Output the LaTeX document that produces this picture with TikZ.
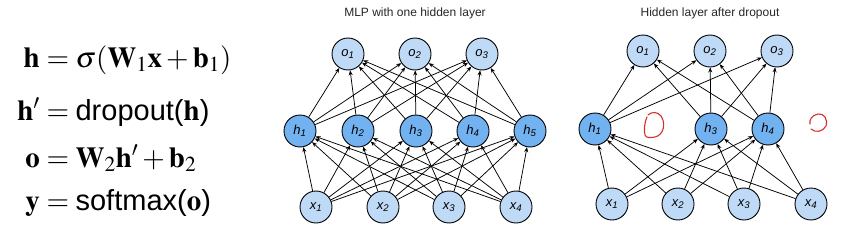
\documentclass[tikz,border=0pt]{standalone}
\usepackage{mathptmx}
\usepackage[no-math]{fontspec}
\newfontfamily\ars{Liberation Sans}
\usetikzlibrary{arrows.meta}
\definecolor{lightnode}{HTML}{BFDAF7}
\definecolor{hidnode}{HTML}{72B2F0}
\definecolor{redink}{HTML}{D32F2F}
\newcommand{\lbl}[2]{{\ars\itshape #1\textsubscript{#2}}}
\tikzset{
  neuron/.style={circle,draw=black,line width=0.9pt,minimum size=32pt,inner sep=0pt,font=\ars\fontsize{13}{14}\selectfont},
  onode/.style={neuron,fill=lightnode},
  xnode/.style={neuron,fill=lightnode},
  hnode/.style={neuron,fill=hidnode},
  conn/.style={-{Stealth[length=5pt,width=4pt]},line width=0.75pt,black},
  title/.style={font=\ars\fontsize{12}{14}\selectfont,text=black!85},
  eqL/.style={anchor=base east,inner sep=0pt,font=\fontsize{29}{32}\selectfont},
  eqR/.style={anchor=base west,inner sep=0pt,font=\fontsize{29}{32}\selectfont},
  redloop/.style={draw=redink,line width=1.1pt,line cap=round,line join=round}
}
\begin{document}
\begin{tikzpicture}[x=1pt,y=-1pt]
\useasboundingbox (0,0) rectangle (852,241);
% equations
\node[eqL] (l1) at (40,67) {$\mathbf{h}$};
\node[eqR] (r1) at (40,67) {${}=\sigma(\mathbf{W}_1\mathbf{x}+\mathbf{b}_1)$};
\node[eqL] (l2) at (40,120) {$\mathbf{h}'$};
\node[eqR] (r2) at (40,120) {${}=\hbox{\ars dropout(}\mathbf{h}\hbox{\ars )}$};
\node[eqL] (l3) at (40,167) {$\mathbf{o}$};
\node[eqR] (r3) at (40,167) {${}=\mathbf{W}_2\mathbf{h}'+\mathbf{b}_2$};
\node[eqL] (l4) at (40,210) {$\mathbf{y}$};
\node[eqR] (r4) at (40,210) {${}=\hbox{\ars softmax(}\mathbf{o}\hbox{\ars )}$};
% titles
\node[title] (t1) at (415,13) {MLP with one hidden layer};
\node[title] (t2) at (710,13) {Hidden layer after dropout};
% left network
\node[onode] (ao1) at (348,54) {\lbl{o}{1}};
\node[onode] (ao2) at (415,54) {\lbl{o}{2}};
\node[onode] (ao3) at (482,54) {\lbl{o}{3}};
\node[hnode] (ah1) at (300,131) {\lbl{h}{1}};
\node[hnode] (ah2) at (358,131) {\lbl{h}{2}};
\node[hnode] (ah3) at (416,131) {\lbl{h}{3}};
\node[hnode] (ah4) at (473,131) {\lbl{h}{4}};
\node[hnode] (ah5) at (530,131) {\lbl{h}{5}};
\node[xnode] (ax1) at (316,207) {\lbl{x}{1}};
\node[xnode] (ax2) at (383,207) {\lbl{x}{2}};
\node[xnode] (ax3) at (449,207) {\lbl{x}{3}};
\node[xnode] (ax4) at (516,207) {\lbl{x}{4}};
\foreach \i in {1,...,4}{\foreach \j in {1,...,5}{\draw[conn] (ax\i) -- (ah\j);}}
\foreach \j in {1,...,5}{\foreach \k in {1,2,3}{\draw[conn] (ah\j) -- (ao\k);}}
% right network
\node[onode] (bo1) at (643,51) {\lbl{o}{1}};
\node[onode] (bo2) at (710,51) {\lbl{o}{2}};
\node[onode] (bo3) at (777,51) {\lbl{o}{3}};
\node[hnode] (bh1) at (595,129) {\lbl{h}{1}};
\node[hnode] (bh3) at (711,129) {\lbl{h}{3}};
\node[hnode] (bh4) at (768,129) {\lbl{h}{4}};
\node[xnode] (bx1) at (612,204) {\lbl{x}{1}};
\node[xnode] (bx2) at (678,204) {\lbl{x}{2}};
\node[xnode] (bx3) at (744,204) {\lbl{x}{3}};
\node[xnode] (bx4) at (811,204) {\lbl{x}{4}};
\foreach \i in {1,...,4}{\foreach \j in {1,3,4}{\draw[conn] (bx\i) -- (bh\j);}}
\foreach \j in {1,3,4}{\foreach \k in {1,2,3}{\draw[conn] (bh\j) -- (bo\k);}}
% red hand-drawn marks
\draw[redloop] (647,117) .. controls (644,124) and (644,131) .. (645,135)
  .. controls (646,138) and (650,138) .. (655,137)
  .. controls (664,135) and (666,123) .. (661,116)
  .. controls (657,111) and (651,112) .. (648,115);
\draw[redloop] (811,129) .. controls (815,133) and (823,132) .. (826,126)
  .. controls (828,119) and (824,113) .. (818,114)
  .. controls (812,115) and (809,120) .. (810,124);
\end{tikzpicture}
\end{document}
